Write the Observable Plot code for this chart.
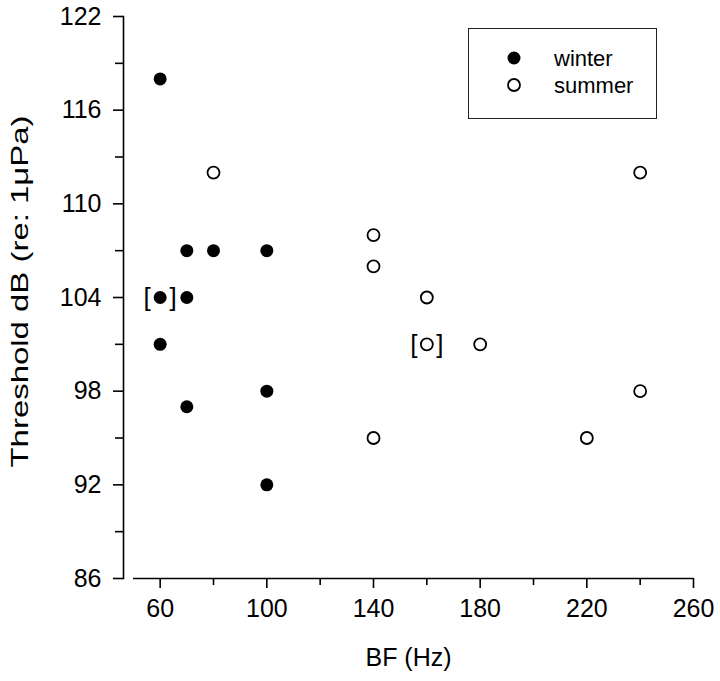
<!DOCTYPE html>
<html>
<head>
<meta charset="utf-8">
<script src="https://cdn.jsdelivr.net/npm/d3@7"></script>
<script src="https://cdn.jsdelivr.net/npm/@observablehq/plot@0.6"></script>
<style>
  html, body { margin: 0; padding: 0; background: #fff; }
  #wrap { position: relative; width: 720px; height: 681px; }
  #legend { position: absolute; left: 468px; top: 28px; width: 187px; height: 89px;
            border: 1.5px solid #222; background: #fff; }
</style>
</head>
<body>
<div id="wrap"><div id="legend"></div></div>
<script>
// Winter (filled) points: BF (Hz), threshold dB
const winterBF = [60, 70, 80, 100, 60, 70, 60, 70, 100, 100];
const winterDB = [118, 107, 107, 107, 104, 104, 101, 97, 98, 92];
// Summer (open) points
const summerBF = [80, 140, 140, 160, 160, 180, 140, 220, 240, 240];
const summerDB = [112, 108, 106, 104, 101, 101, 95, 95, 112, 98];
// Bracketed points
const bracketBF = [60, 160];
const bracketDB = [104, 101];
// Axis ticks
const xMajor = [60, 100, 140, 180, 220, 260];
const xMinor = [80, 120, 160, 200, 240];
const yMajor = [86, 92, 98, 104, 110, 116, 122];
const yMinor = [89, 95, 101, 107, 113, 119];
const xDomain = [46.25, 260];
const xAxisStart = 50;
const yDomain = [86, 122];
const seriesNames = ["winter", "summer"];
const xTitle = "BF (Hz)";
const yTitle = "Threshold dB (re: 1\u03BCPa)";

const winter = winterBF.map((x, i) => ({x, y: winterDB[i]}));
const summer = summerBF.map((x, i) => ({x, y: summerDB[i]}));
const brackets = bracketBF.map((x, i) => ({x, y: bracketDB[i]}));

const font = "Liberation Sans, Arial, sans-serif";

const chart = Plot.plot({
  width: 720,
  height: 681,
  marginTop: 16,
  marginBottom: 103,
  marginLeft: 123,
  marginRight: 27,
  style: {fontFamily: font, background: "#fff", color: "#000"},
  x: {domain: xDomain},
  y: {domain: yDomain},
  marks: [
    Plot.axisX(xMajor, {tickSize: 10, tickPadding: 11, fontSize: 25, label: null, strokeWidth: 1.6}),
    Plot.axisX(xMinor, {tickSize: 7, tickFormat: () => "", label: null, strokeWidth: 1.6}),
    Plot.axisY(yMajor, {tickSize: 10, tickPadding: 12, fontSize: 25, label: null, strokeWidth: 1.6}),
    Plot.axisY(yMinor, {tickSize: 8, tickFormat: () => "", label: null, strokeWidth: 1.6}),
    Plot.frame({anchor: "left", strokeWidth: 1.6}),
    Plot.ruleY([yDomain[0]], {x1: xAxisStart, x2: xDomain[1], strokeWidth: 1.6}),
    Plot.text([xTitle], {frameAnchor: "bottom", dy: 87, fontSize: 25}),
    Plot.text([yTitle], {frameAnchor: "left", textAnchor: "middle", dx: -103, dy: -6, rotate: -90, fontSize: 24}),
    Plot.dot(winter, {x: "x", y: "y", r: 6.5, fill: "#000", stroke: "none"}),
    Plot.dot(summer, {x: "x", y: "y", r: 6, fill: "#fff", stroke: "#000", strokeWidth: 1.8}),
    Plot.text(brackets, {x: "x", y: "y", text: () => "[", dx: -13, fontSize: 26}),
    Plot.text(brackets, {x: "x", y: "y", text: () => "]", dx: 13, fontSize: 26})
  ]
});
document.getElementById("wrap").prepend(chart);

// Stretch the y title to the reference's length
d3.select(chart).selectAll("text").filter(function() { return this.textContent === yTitle; })
  .attr("textLength", 352).attr("lengthAdjust", "spacingAndGlyphs");

// Legend (overlay)
const lg = d3.select("#legend").append("svg").attr("width", 187).attr("height", 89)
  .style("font-family", font);
seriesNames.forEach((name, i) => {
  const cy = 29 + i * 27;
  lg.append("circle").attr("cx", 45).attr("cy", cy).attr("r", i === 0 ? 6.5 : 6)
    .attr("fill", i === 0 ? "#000" : "#fff").attr("stroke", i === 0 ? "none" : "#000")
    .attr("stroke-width", 1.8);
  lg.append("text").attr("x", 85).attr("y", cy).attr("dy", "0.35em")
    .attr("font-size", 22).text(name);
});
</script>
</body>
</html>
